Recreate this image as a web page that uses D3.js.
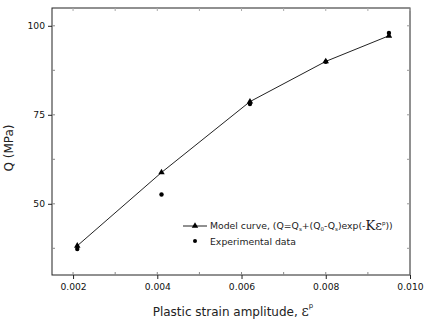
<!DOCTYPE html>
<html>
<head>
<meta charset="utf-8">
<script src="https://cdn.jsdelivr.net/npm/d3@7"></script>
<style>
  body { margin: 0; background: #fff; }
  text { font-family: "DejaVu Sans", sans-serif; }
</style>
</head>
<body>
<div class="canvas"></div>
<script>
// data
const strain = [0.0021, 0.0041, 0.0062, 0.0080, 0.0095];
const modelQ = [38.2, 58.8, 78.7, 90.0, 97.2];
const expQ = [37.3, 52.6, 78.0, 89.9, 98.0];
const xTicks = [0.002, 0.004, 0.006, 0.008, 0.010];
const yTicks = [50, 75, 100];

const width = 425, height = 322;
const margin = { top: 8, right: 15, bottom: 47, left: 52 };
const graphWidth = width - margin.left - margin.right;
const graphHeight = height - margin.top - margin.bottom;

const svg = d3.select('.canvas').append('svg')
    .attr('width', width)
    .attr('height', height);

const graph = svg.append('g')
    .attr('transform', `translate(${margin.left}, ${margin.top})`);

const x = d3.scaleLinear().domain([0.00150, 0.0100]).range([0, graphWidth]);
const y = d3.scaleLinear().domain([30, 105]).range([graphHeight, 0]);

// frame
graph.append('rect')
    .attr('width', graphWidth)
    .attr('height', graphHeight)
    .attr('fill', 'none')
    .attr('stroke', '#222')
    .attr('stroke-width', 1);

// minor ticks, inward
const xMinor = d3.range(0.002, 0.0101, 0.001);
const yMinor = d3.range(37.5, 105, 12.5);

// bottom axis
const xAxis = graph.append('g')
    .attr('transform', `translate(0, ${graphHeight})`)
    .call(d3.axisBottom(x).tickValues(xTicks).tickFormat(d3.format('.3f')).tickSize(4).tickPadding(4));
// left axis
const yAxis = graph.append('g')
    .call(d3.axisLeft(y).tickValues(yTicks).tickSize(4).tickPadding(3));

[xAxis, yAxis].forEach(a => {
  a.select('.domain').remove();
  a.selectAll('line').attr('stroke', '#222');
  a.selectAll('text').attr('font-size', 9.2).attr('fill', '#111')
      .attr('font-family', '"DejaVu Sans", sans-serif');
});

graph.append('g').selectAll('line').data(xMinor).join('line')
    .attr('x1', d => x(d)).attr('x2', d => x(d))
    .attr('y1', graphHeight).attr('y2', graphHeight - 3)
    .attr('stroke', '#888');
graph.append('g').selectAll('line').data(xMinor).join('line')
    .attr('x1', d => x(d)).attr('x2', d => x(d))
    .attr('y1', 0).attr('y2', 3)
    .attr('stroke', '#aaa');
graph.append('g').selectAll('line').data(yMinor).join('line')
    .attr('x1', 0).attr('x2', 3)
    .attr('y1', d => y(d)).attr('y2', d => y(d))
    .attr('stroke', '#888');
graph.append('g').selectAll('line').data(yMinor).join('line')
    .attr('x1', graphWidth).attr('x2', graphWidth - 3)
    .attr('y1', d => y(d)).attr('y2', d => y(d))
    .attr('stroke', '#999');

// model curve
const line = d3.line()
    .x((d, i) => x(strain[i]))
    .y(d => y(d));

graph.append('path')
    .datum(modelQ)
    .attr('d', line)
    .attr('fill', 'none')
    .attr('stroke', '#222')
    .attr('stroke-width', 1);

const tri = d3.symbol().type(d3.symbolTriangle).size(18);

graph.selectAll('.tri')
    .data(modelQ)
    .enter()
    .append('path')
    .attr('class', 'tri')
    .attr('d', tri)
    .attr('fill', '#000')
    .attr('transform', (d, i) => `translate(${x(strain[i])}, ${y(d)})`);

graph.selectAll('.dot')
    .data(expQ)
    .enter()
    .append('circle')
    .attr('class', 'dot')
    .attr('cx', (d, i) => x(strain[i]))
    .attr('cy', d => y(d))
    .attr('r', 2.2)
    .attr('fill', '#000');

// legend
const legend = svg.append('g');
legend.append('line')
    .attr('x1', 183).attr('x2', 207)
    .attr('y1', 226).attr('y2', 226)
    .attr('stroke', '#222');
legend.append('path')
    .attr('d', tri)
    .attr('transform', 'translate(195, 226)')
    .attr('fill', '#000');
legend.append('circle')
    .attr('cx', 195).attr('cy', 241)
    .attr('r', 2)
    .attr('fill', '#000');

const t1 = legend.append('text')
    .attr('x', 210).attr('y', 229)
    .attr('font-size', 9.3)
    .attr('fill', '#222');
t1.append('tspan').text('Model curve, (Q=Q');
t1.append('tspan').attr('font-size', 5.5).attr('dy', 2).text('s');
t1.append('tspan').attr('dy', -2).text('+(Q');
t1.append('tspan').attr('font-size', 5.5).attr('dy', 2).text('0');
t1.append('tspan').attr('dy', -2).text('-Q');
t1.append('tspan').attr('font-size', 5.5).attr('dy', 2).text('s');
t1.append('tspan').attr('dy', -2).text(')exp(-');
t1.append('tspan').attr('font-family', '"DejaVu Serif", serif').attr('font-size', 13).attr('dy', 1).text('Kε');
t1.append('tspan').attr('font-size', 5.5).attr('dy', -5).text('p');
t1.append('tspan').attr('dy', 4).text('))');

legend.append('text')
    .attr('x', 210).attr('y', 245)
    .attr('font-size', 9.3)
    .attr('fill', '#222')
    .text('Experimental data');

// axis titles
const xt = svg.append('text')
    .attr('x', 233).attr('y', 316)
    .attr('text-anchor', 'middle')
    .attr('font-size', 12)
    .attr('fill', '#222');
xt.append('tspan').text('Plastic strain amplitude, ');
xt.append('tspan').attr('font-family', '"DejaVu Serif", serif').attr('font-size', 14).text('ε');
xt.append('tspan').attr('font-size', 7).attr('dy', -8).text('p');

svg.append('text')
    .attr('transform', 'translate(13, 148) rotate(-90)')
    .attr('text-anchor', 'middle')
    .attr('font-size', 12)
    .attr('fill', '#222')
    .text('Q (MPa)');
</script>
</body>
</html>
